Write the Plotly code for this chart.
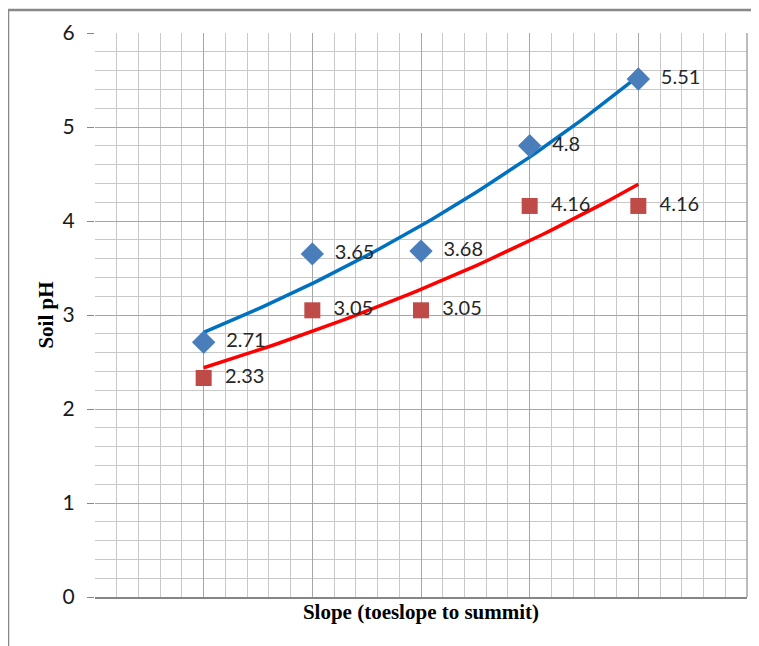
import numpy as np
import plotly.graph_objects as go

# Data
positions = [1, 2, 3, 4, 5]
series_blue = [2.71, 3.65, 3.68, 4.8, 5.51]
series_red = [2.33, 3.05, 3.05, 4.16, 4.16]
y_ticks = [0, 1, 2, 3, 4, 5, 6]
x_title = "Slope (toeslope to summit)"
y_title = "Soil pH"


def exp_fit(x, y):
    b, a = np.polyfit(np.array(x, float), np.log(np.array(y, float)), 1)
    xs = np.linspace(min(x), max(x), 60)
    return xs, np.exp(a + b * xs)


fig = go.Figure()

bx, by = exp_fit(positions, series_blue)
rx, ry = exp_fit(positions, series_red)

fig.add_trace(go.Scatter(x=bx, y=by, mode="lines",
                         line=dict(color="#0070C0", width=3.5),
                         hoverinfo="skip", showlegend=False))
fig.add_trace(go.Scatter(x=rx, y=ry, mode="lines",
                         line=dict(color="#FF0000", width=3.5),
                         hoverinfo="skip", showlegend=False))

fig.add_trace(go.Scatter(x=positions, y=series_blue, mode="markers+text",
                         marker=dict(symbol="diamond", size=18, color="#4A7EBB"),
                         text=["  " + f"{v:g}" for v in series_blue],
                         textposition="middle right",
                         textfont=dict(family="Lato", size=20, color="#262626"),
                         showlegend=False))
fig.add_trace(go.Scatter(x=positions, y=series_red, mode="markers+text",
                         marker=dict(symbol="square", size=16, color="#BE4B48"),
                         text=["  " + f"{v:g}" for v in series_red],
                         textposition="middle right",
                         textfont=dict(family="Lato", size=20, color="#262626"),
                         showlegend=False))

fig.update_xaxes(range=[0, 6], showticklabels=False, ticks="",
                 showgrid=True, gridcolor="#A6A6A6", gridwidth=1, dtick=1, tick0=0,
                 minor=dict(dtick=0.2, showgrid=True, gridcolor="#C8C8C8", gridwidth=1),
                 showline=True, linecolor="#868686", linewidth=1.5,
                 zeroline=False, mirror=False,
                 title=dict(text="<b>" + x_title + "</b>", standoff=7,
                            font=dict(family="Liberation Serif", size=21, color="#000000")))
fig.update_yaxes(range=[0, 6], tickvals=y_ticks, ticktext=[str(v) for v in y_ticks],
                 ticks="outside", ticklen=7, tickcolor="#868686",
                 ticklabelstandoff=8,
                 tickfont=dict(family="Lato", size=21, color="#1a1a1a"),
                 showgrid=True, gridcolor="#A6A6A6", gridwidth=1,
                 minor=dict(dtick=0.2, showgrid=True, gridcolor="#C8C8C8", gridwidth=1),
                 showline=False, zeroline=False,
                 title=dict(text="<b>" + y_title + "</b>", standoff=3,
                            font=dict(family="Liberation Serif", size=21, color="#000000")))

fig.update_layout(
    width=751, height=638,
    margin=dict(l=87, r=12, t=25, b=49),
    plot_bgcolor="white", paper_bgcolor="white",
    shapes=[
        dict(type="line", xref="paper", yref="paper", x0=1, x1=1, y0=0, y1=1,
             line=dict(color="#A6A6A6", width=1.5)),
        dict(type="line", xref="paper", yref="paper", x0=-0.1334, x1=1.03,
             y0=1.0408, y1=1.0408, line=dict(color="#888888", width=2.5)),
        dict(type="line", xref="paper", yref="paper", x0=-0.1334, x1=-0.1334,
             y0=1.0408, y1=-0.1, line=dict(color="#888888", width=2.5)),
    ],
)

fig.write_html("out.html")
